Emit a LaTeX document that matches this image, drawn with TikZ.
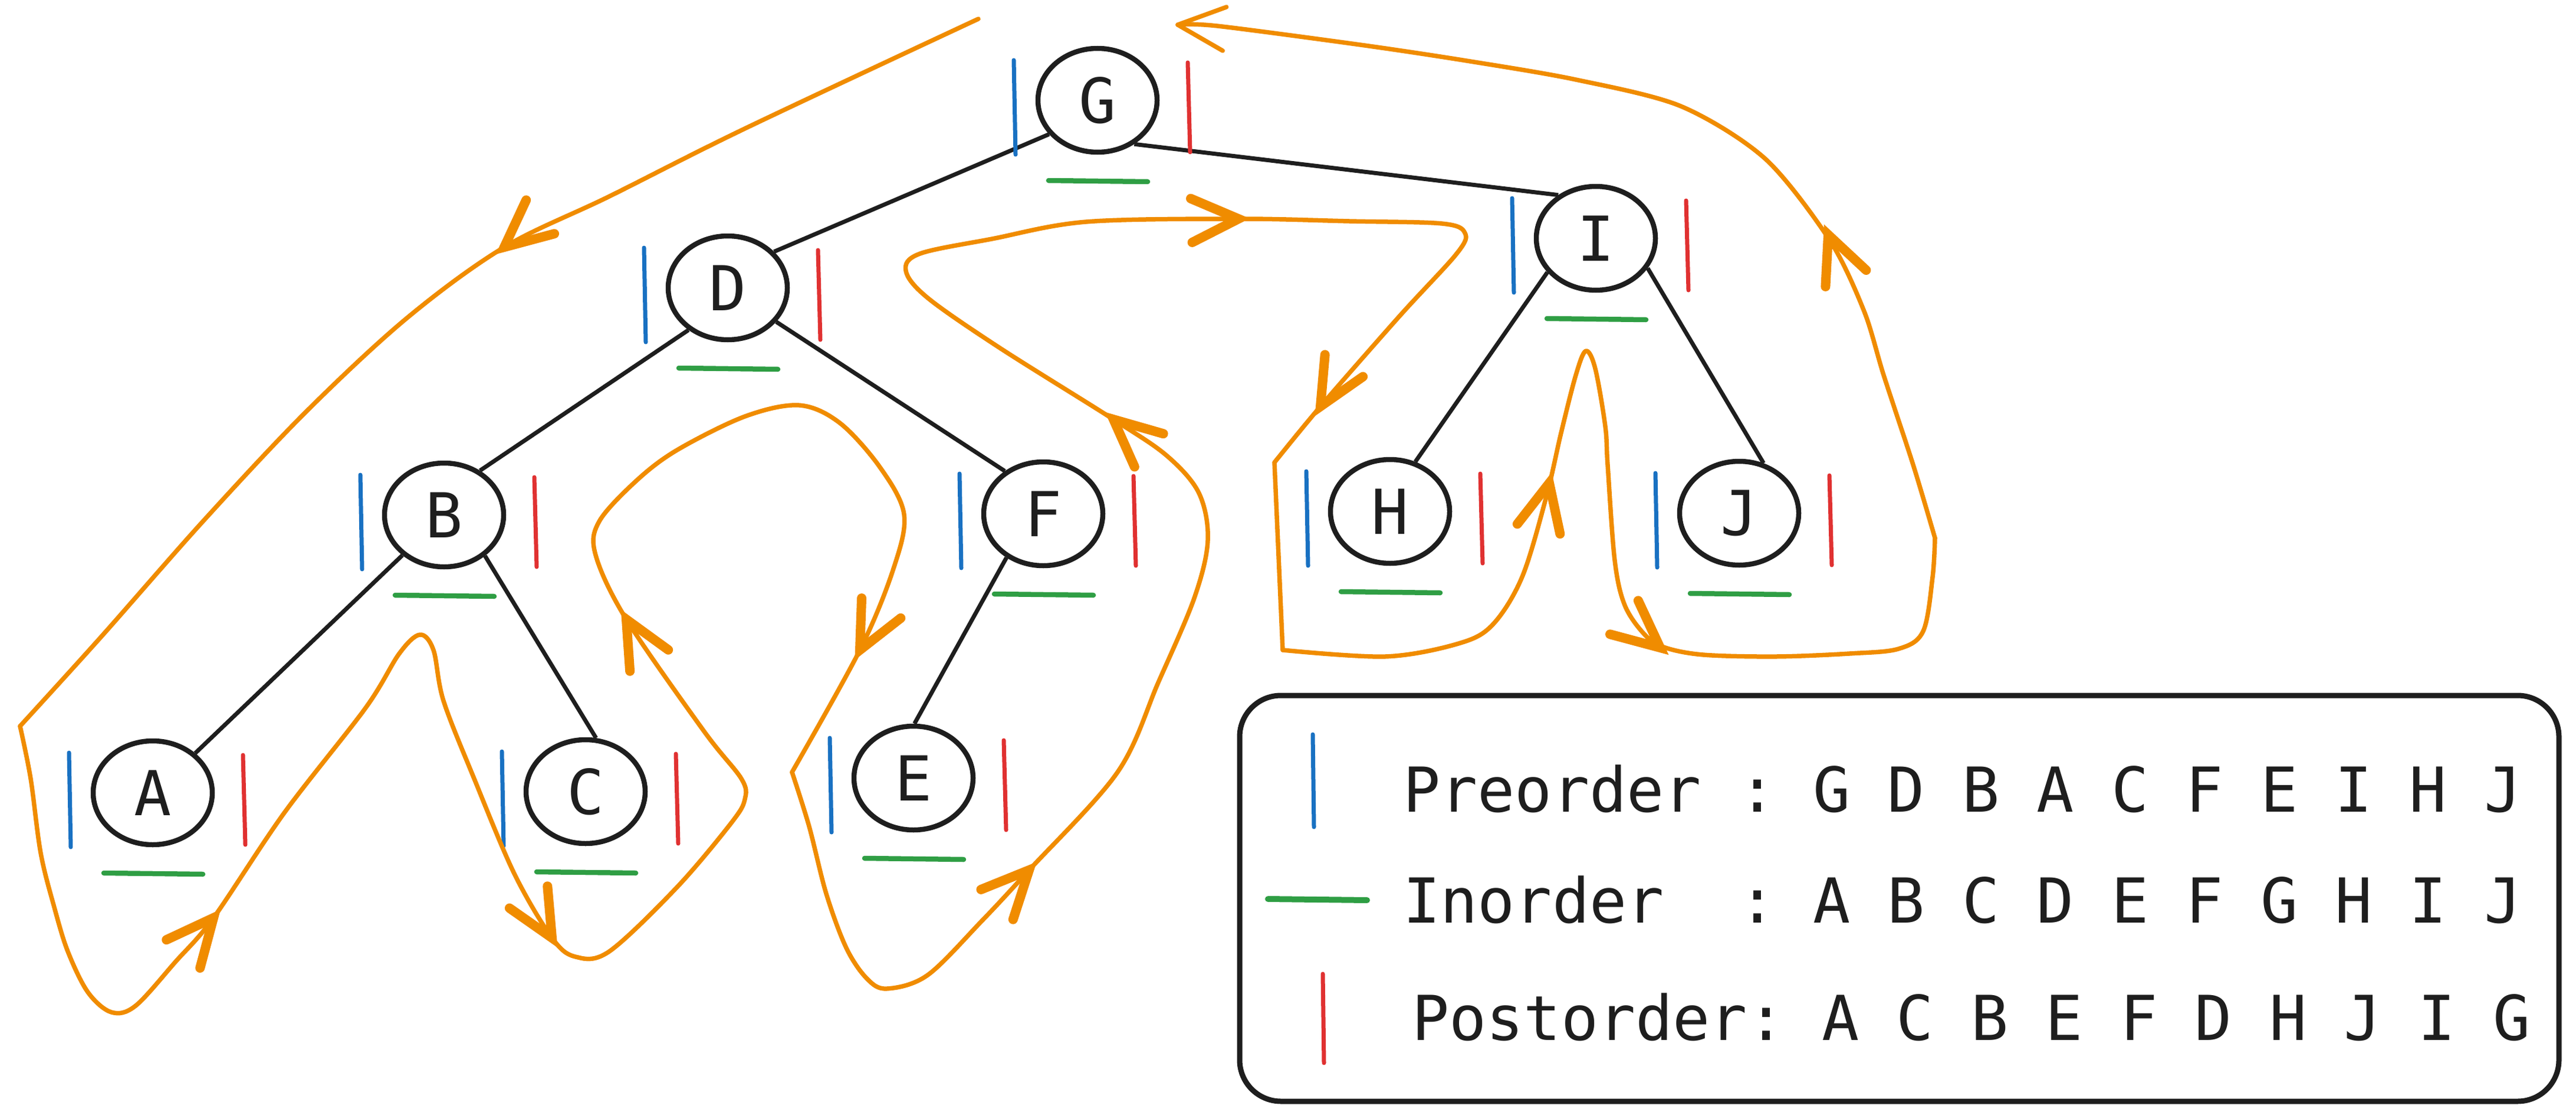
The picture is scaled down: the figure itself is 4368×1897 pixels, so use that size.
\documentclass[tikz,border=0pt]{standalone}
\usepackage{fontspec}
\setmonofont{DejaVu Sans Mono}
\usetikzlibrary{shapes.geometric,calc}
\definecolor{ink}{HTML}{1E1E1E}
\definecolor{tourc}{HTML}{F08C00}
\definecolor{preb}{HTML}{1971C2}
\definecolor{inoc}{HTML}{2F9E44}
\definecolor{postr}{HTML}{E03131}
\newcommand{\tourhead}[3][tourtip]{\draw[#1] ($(#2)+(#3+155:88)$) -- (#2) -- ($(#2)+(#3-155:88)$);}
\begin{document}
\begin{tikzpicture}[x=1pt,y=-1pt,
  treenode/.style={ellipse, draw=ink, line width=8.5pt, minimum width=202pt, minimum height=176pt, inner sep=0pt, font=\ttfamily\fontsize{105}{120}\selectfont, text=ink},
  treeedge/.style={draw=ink, line width=7pt},
  premark/.style={draw=preb, line width=7pt, line cap=round},
  inmark/.style={draw=inoc, line width=8.5pt, line cap=round},
  postmark/.style={draw=postr, line width=7pt, line cap=round},
  tour/.style={draw=tourc, line width=7.5pt, line cap=round, line join=round},
  tourtip/.style={draw=tourc, line width=16pt, line cap=round, line join=miter},
  thintip/.style={draw=tourc, line width=7.5pt, line cap=round, line join=round},
  legendtext/.style={anchor=base west, inner sep=0pt, font=\ttfamily\fontsize{105}{120}\selectfont, text=ink}
]
\useasboundingbox (0,0) rectangle (4368,1897);
\fill[white] (0,0) rectangle (4368,1897);

% tree nodes
\node[treenode] (G) at (1861,170) {G};
\node[treenode] (D) at (1234,488) {D};
\node[treenode] (B) at (753,873) {B};
\node[treenode] (F) at (1769,871) {F};
\node[treenode] (A) at (259,1344) {A};
\node[treenode] (C) at (993,1342) {C};
\node[treenode] (E) at (1549,1319) {E};
\node[treenode] (I) at (2706,404) {I};
\node[treenode] (H) at (2357,867) {H};
\node[treenode] (J) at (2949,870) {J};

% tree edges
\draw[treeedge] (G.215) -- (D.38);
\draw[treeedge] (G.-50) -- (I.131);
\draw[treeedge] (D.-133) -- (B.51);
\draw[treeedge] (D.-35) -- (F.132);
\draw[treeedge] (B.-136) -- (A.43);
\draw[treeedge] (B.-45) -- (C.79);
\draw[treeedge] (F.-130) -- (E.89);
\draw[treeedge] (I.-145) -- (H.63);
\draw[treeedge] (I.-30) -- (J.64);

% traversal marks
\foreach \n in {G,D,B,F,A,C,E,I,H,J}{
  \draw[premark] ($(\n)+(-142,-68)$) -- ($(\n)+(-139,92)$);
  \draw[postmark] ($(\n)+(153,-64)$) -- ($(\n)+(157,88)$);
  \draw[inmark] ($(\n)+(-83,136)$) -- ($(\n)+(85,138)$);
}

% Euler tour
\draw[tour] plot[smooth, tension=0.55] coordinates {(1659,32) (1263,218) (1033,333) (855,419) (689,540) (517,700) (344,884) (172,1079) (34,1231)};
\draw[tour] plot[smooth, tension=0.55] coordinates {(34,1231) (52,1320) (69,1446) (92,1538) (115,1613) (149,1682) (189,1716) (230,1705) (298,1630) (362,1556) (482,1378) (620,1200) (677,1108) (712,1076) (735,1102) (752,1188) (804,1320) (872,1481) (936,1590) (976,1622) (1033,1613) (1148,1504) (1240,1395) (1263,1355) (1257,1320) (1194,1240) (1062,1050) (1010,941) (1016,884) (1079,815) (1148,763) (1263,706) (1355,687) (1424,717) (1492,792) (1533,872) (1515,964) (1458,1102) (1343,1309)};
\draw[tour] plot[smooth, tension=0.55] coordinates {(1343,1309) (1372,1401) (1401,1515) (1435,1607) (1470,1659) (1504,1676) (1573,1653) (1665,1561) (1745,1475) (1895,1309) (1964,1157) (2025,1014) (2048,916) (2033,836) (1979,773) (1888,711) (1694,589) (1573,505) (1536,459) (1560,430) (1682,405) (1842,376) (2100,371) (2288,375) (2445,379) (2484,395) (2470,430) (2373,536) (2239,689) (2161,784)};
\draw[tour] (2161,784) -- (2175,1102);
\draw[tour] plot[smooth, tension=0.55] coordinates {(2175,1102) (2349,1113) (2473,1091) (2531,1059) (2581,978) (2622,842) (2647,734) (2672,636) (2689,595) (2705,625) (2722,723) (2726,788) (2738,950) (2755,1026) (2788,1075) (2821,1097) (2888,1110) (3012,1113) (3136,1108) (3219,1100) (3261,1070) (3277,978) (3281,912)};
\draw[tour] plot[smooth, tension=0.5] coordinates {(3281,912) (3244,788) (3194,636) (3161,528) (3103,408) (2993,269) (2850,180) (2672,135) (2493,104) (2314,77) (2064,44) (1997,42)};

% arrow heads along the tour
\coordinate (t1) at (855,419);
\coordinate (t2) at (362,1556);
\coordinate (t3) at (936,1590);
\coordinate (t4) at (1062,1050);
\coordinate (t5) at (1458,1102);
\coordinate (t6) at (1745,1475);
\coordinate (t7) at (1888,711);
\coordinate (t8) at (2100,371);
\coordinate (t9) at (2239,689);
\coordinate (t10) at (2627,819);
\coordinate (t11) at (2815,1098);
\coordinate (t12) at (3100,398);
\coordinate (t13) at (1997,42);
\tourhead{t1}{140}
\tourhead{t2}{310}
\tourhead{t3}{60}
\tourhead{t4}{241}
\tourhead{t5}{117}
\tourhead{t6}{313}
\tourhead{t7}{221}
\tourhead{t8}{358}
\tourhead{t9}{120}
\tourhead{t10}{283}
\tourhead{t11}{40}
\tourhead{t12}{248}
\tourhead[thintip]{t13}{185}

% legend
\node[draw=ink, line width=9pt, rounded corners=70pt, minimum width=2237pt, minimum height=688pt, inner sep=0pt] (legend) at (3220.5,1523) {};
\draw[premark] (2226,1245) -- (2228,1402);
\draw[inmark, line width=10pt] (2150,1524) -- (2318,1526);
\draw[postmark] (2243,1651) -- (2245,1802);
\node[legendtext] (pre) at (2379,1376) {Preorder : G D B A C F E I H J};
\node[legendtext] (ino) at (2379,1564) {Inorder~~: A B C D E F G H I J};
\node[legendtext] (post) at (2394,1763) {Postorder: A C B E F D H J I G};
\end{tikzpicture}
\end{document}
